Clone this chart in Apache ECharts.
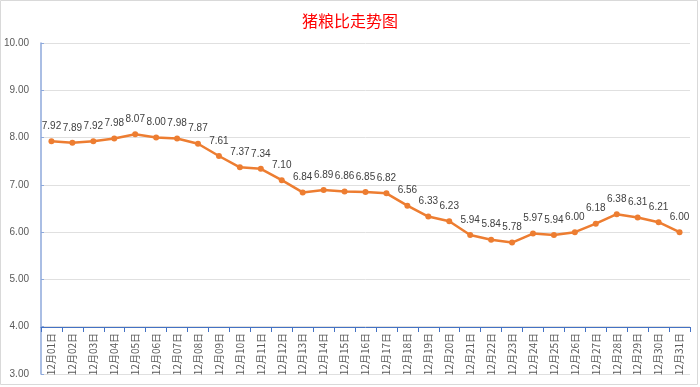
<!DOCTYPE html>
<html>
<head>
<meta charset="utf-8">
<script src="https://cdn.jsdelivr.net/npm/echarts@6/dist/echarts.min.js"></script>
<style>html,body{margin:0;padding:0;background:#fff}#c{width:700px;height:387px}</style>
</head>
<body>
<div id="c"></div>
<script>
const categories = ["12月01日","12月02日","12月03日","12月04日","12月05日","12月06日","12月07日","12月08日","12月09日","12月10日","12月11日","12月12日","12月13日","12月14日","12月15日","12月16日","12月17日","12月18日","12月19日","12月20日","12月21日","12月22日","12月23日","12月24日","12月25日","12月26日","12月27日","12月28日","12月29日","12月30日","12月31日"];
const ratioValues = [7.92,7.89,7.92,7.98,8.07,8.00,7.98,7.87,7.61,7.37,7.34,7.10,6.84,6.89,6.86,6.85,6.82,6.56,6.33,6.23,5.94,5.84,5.78,5.97,5.94,6.00,6.18,6.38,6.31,6.21,6.00];
const yMin = 3, yMax = 10, yStep = 1;

const chart = echarts.init(document.getElementById('c'));
const gridTop = 43, gridBottomPx = 374;
const unitPx = (gridBottomPx - gridTop) / (yMax - yMin);
chart.setOption({
  animation: false,
  title: {
    text: '猪粮比走势图', left: 'center', top: 8,
    textStyle: { color: '#FF0000', fontSize: 16, fontWeight: 'normal', fontFamily: 'Noto Sans CJK SC' }
  },
  graphic: [{
    type: 'rect', shape: { x: 0.5, y: 0.5, width: 697, height: 384 },
    style: { fill: 'none', stroke: '#D9D9D9', lineWidth: 1 }, silent: true, z: -1
  }],
  grid: { left: 41, right: 10, top: gridTop, bottom: 387 - gridBottomPx },
  xAxis: {
    type: 'category', data: categories, boundaryGap: true,
    offset: -Math.round(unitPx),
    axisLine: { onZero: false, lineStyle: { color: '#4472C4', width: 1 } },
    axisTick: { show: true, alignWithLabel: false, length: 5, lineStyle: { color: '#4472C4' } },
    axisLabel: { rotate: 90, interval: 0, color: '#595959', fontSize: 10, margin: 6, fontFamily: 'Noto Sans CJK SC' },
    splitLine: { show: false }
  },
  yAxis: {
    type: 'value', min: yMin, max: yMax, interval: yStep,
    axisLine: { show: true, lineStyle: { color: '#8EA9DB', width: 1.5 } },
    axisTick: { show: true, inside: true, length: 3, lineStyle: { color: '#8EA9DB' } },
    axisLabel: { color: '#595959', fontSize: 10, margin: 12, formatter: v => v.toFixed(2), fontFamily: 'Liberation Sans' },
    splitLine: { show: true, lineStyle: { color: '#E0E0E0', width: 1 } }
  },
  series: [{
    type: 'line', data: ratioValues,
    lineStyle: { color: '#ED7D31', width: 2.5 },
    itemStyle: { color: '#ED7D31' },
    symbol: 'circle', symbolSize: 6, showAllSymbol: true,
    label: { show: true, position: 'top', distance: 7, color: '#404040', fontSize: 10, fontFamily: 'Liberation Sans', formatter: p => p.value.toFixed(2) }
  }]
});
</script>
</body>
</html>
